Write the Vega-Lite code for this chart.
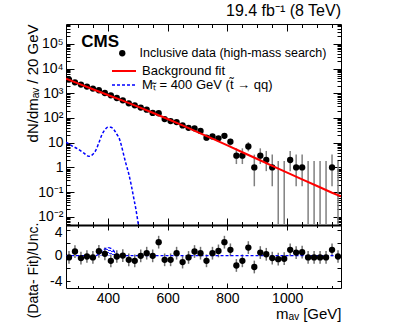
{
  "$schema": "https://vega.github.io/schema/vega-lite/v6.json",
  "padding": {"left": 24, "top": 3, "right": 5, "bottom": 0},
  "background": "white",
  "title": {"text": "19.4 fb⁻¹ (8 TeV)", "anchor": "end", "fontSize": 16, "fontWeight": "normal", "font": "Liberation Sans", "color": "black", "offset": 4, "frame": "group"},
  "spacing": 0,
  "bounds": "flush",
  "datasets": {
    "bins": [
      {"m":270,"n":3550,"lo":3490,"hi":3610,"pull":-0.3,"plo":-1.3,"phi":0.7},
      {"m":290,"n":2760,"lo":2707,"hi":2813,"pull":0.63,"plo":-0.37,"phi":1.63},
      {"m":310,"n":2240,"lo":2193,"hi":2287,"pull":-0.4,"plo":-1.4,"phi":0.6},
      {"m":330,"n":1850,"lo":1807,"hi":1893,"pull":-0.15,"plo":-1.15,"phi":0.85},
      {"m":350,"n":1540,"lo":1501,"hi":1579,"pull":-0.3,"plo":-1.3,"phi":0.7},
      {"m":370,"n":1320,"lo":1284,"hi":1356,"pull":0.67,"plo":-0.33,"phi":1.67},
      {"m":390,"n":1020,"lo":988,"hi":1052,"pull":0.27,"plo":-0.73,"phi":1.27},
      {"m":410,"n":822,"lo":793,"hi":851,"pull":-0.83,"plo":-1.83,"phi":0.17},
      {"m":430,"n":640,"lo":615,"hi":665,"pull":-0.15,"plo":-1.15,"phi":0.85},
      {"m":450,"n":515,"lo":492,"hi":538,"pull":0,"plo":-1,"phi":1},
      {"m":470,"n":390,"lo":370,"hi":410,"pull":-0.67,"plo":-1.67,"phi":0.33},
      {"m":490,"n":323,"lo":305,"hi":341,"pull":-0.83,"plo":-1.83,"phi":0.17},
      {"m":510,"n":262,"lo":246,"hi":278,"pull":-0.05,"plo":-1.05,"phi":0.95},
      {"m":530,"n":216,"lo":201,"hi":231,"pull":0.37,"plo":-0.63,"phi":1.37},
      {"m":550,"n":160,"lo":147,"hi":173,"pull":-0.05,"plo":-1.05,"phi":0.95},
      {"m":570,"n":155,"lo":143,"hi":167,"pull":2.1,"plo":1.1,"phi":3.1},
      {"m":590,"n":90,"lo":80.5,"hi":99.5,"pull":-0.67,"plo":-1.67,"phi":0.33},
      {"m":610,"n":75,"lo":66.3,"hi":83.7,"pull":-0.67,"plo":-1.67,"phi":0.33},
      {"m":630,"n":68,"lo":59.8,"hi":76.2,"pull":0.37,"plo":-0.63,"phi":1.37},
      {"m":650,"n":50,"lo":42.9,"hi":57.1,"pull":-1.03,"plo":-2.03,"phi":-0.03},
      {"m":670,"n":40,"lo":33.7,"hi":46.3,"pull":-0.3,"plo":-1.3,"phi":0.7},
      {"m":690,"n":38,"lo":31.8,"hi":44.2,"pull":0.63,"plo":-0.37,"phi":1.63},
      {"m":710,"n":30,"lo":24.5,"hi":35.5,"pull":0.37,"plo":-0.63,"phi":1.37},
      {"m":730,"n":16,"lo":12,"hi":20,"pull":-0.83,"plo":-1.83,"phi":0.17},
      {"m":750,"n":18,"lo":13.8,"hi":22.2,"pull":0.37,"plo":-0.63,"phi":1.37},
      {"m":770,"n":15,"lo":11.1,"hi":18.9,"pull":0.73,"plo":-0.27,"phi":1.73},
      {"m":790,"n":19,"lo":14.6,"hi":23.4,"pull":2.1,"plo":1.1,"phi":3.1},
      {"m":810,"n":11,"lo":7.7,"hi":14.3,"pull":0.9,"plo":-0.1,"phi":1.9},
      {"m":830,"n":3,"lo":1.37,"hi":5.92,"pull":-1.56,"plo":-2.56,"phi":-0.56},
      {"m":850,"n":3,"lo":1.37,"hi":5.92,"pull":-0.83,"plo":-1.83,"phi":0.17},
      {"m":870,"n":7,"lo":4.47,"hi":10.5,"pull":1.25,"plo":0.25,"phi":2.25},
      {"m":890,"n":1,"lo":0.173,"hi":3.3,"pull":-1.8,"plo":-2.8,"phi":-0.8},
      {"m":910,"n":3,"lo":1.37,"hi":5.92,"pull":0.47,"plo":-0.53,"phi":1.47},
      {"m":930,"n":2,"lo":0.708,"hi":4.64,"pull":0.2,"plo":-0.8,"phi":1.2},
      {"m":950,"n":1,"lo":0.173,"hi":3.3,"pull":-0.4,"plo":-1.4,"phi":0.6},
      {"m":970,"n":0,"lo":0.001,"hi":1.84,"pull":-0.57,"plo":-1.57,"phi":0.43},
      {"m":990,"n":0,"lo":0.001,"hi":1.84,"pull":-0.5,"plo":-1.5,"phi":0.5},
      {"m":1010,"n":2,"lo":0.708,"hi":4.64,"pull":0.9,"plo":-0.1,"phi":1.9},
      {"m":1030,"n":1,"lo":0.173,"hi":3.3,"pull":0.47,"plo":-0.53,"phi":1.47},
      {"m":1050,"n":1,"lo":0.173,"hi":3.3,"pull":0.52,"plo":-0.48,"phi":1.52},
      {"m":1070,"n":0,"lo":0.001,"hi":1.84,"pull":-0.3,"plo":-1.3,"phi":0.7},
      {"m":1090,"n":0,"lo":0.001,"hi":1.84,"pull":-0.3,"plo":-1.3,"phi":0.7},
      {"m":1110,"n":0,"lo":0.001,"hi":1.84,"pull":-0.3,"plo":-1.3,"phi":0.7},
      {"m":1130,"n":0,"lo":0.001,"hi":1.84,"pull":-0.3,"plo":-1.3,"phi":0.7},
      {"m":1150,"n":1,"lo":0.173,"hi":3.3,"pull":0.9,"plo":-0.1,"phi":1.9},
      {"m":1170,"n":0,"lo":0.001,"hi":1.84,"pull":-0.15,"plo":-1.15,"phi":0.85}
    ],
    "fit": [
      {"m":260,"v":3890},{"m":300,"v":2510},{"m":350,"v":1445},{"m":400,"v":851},{"m":450,"v":501},
      {"m":500,"v":288},{"m":550,"v":162},{"m":600,"v":91},{"m":650,"v":50},{"m":700,"v":26.9},
      {"m":750,"v":14.5},{"m":800,"v":7.8},{"m":850,"v":4.1},{"m":900,"v":2.19},{"m":950,"v":1.15},
      {"m":1000,"v":0.62},{"m":1050,"v":0.33},{"m":1100,"v":0.178},{"m":1150,"v":0.095},{"m":1180,"v":0.068}
    ],
    "sig": [
      {"m":260,"v":10.5},{"m":280,"v":7.5},{"m":300,"v":5.5},{"m":320,"v":3.8},{"m":336,"v":2.8},
      {"m":350,"v":3.4},{"m":360,"v":5},{"m":370,"v":10},{"m":380,"v":21},{"m":390,"v":33},
      {"m":400,"v":42},{"m":410,"v":42},{"m":420,"v":34},{"m":430,"v":22},{"m":436,"v":17},
      {"m":445,"v":8},{"m":452,"v":3.6},{"m":460,"v":1.5},{"m":470,"v":0.55},{"m":478,"v":0.2},
      {"m":486,"v":0.063},{"m":494,"v":0.02},{"m":502,"v":0.005},{"m":510,"v":0.0015}
    ],
    "sigpull": [
      {"m":260,"p":0},{"m":362,"p":0},{"m":370,"p":0.25},{"m":378,"p":0.6},{"m":386,"p":0.95},
      {"m":394,"p":1.15},{"m":402,"p":1.25},{"m":410,"p":1.15},{"m":418,"p":0.85},{"m":426,"p":0.4},
      {"m":434,"p":0.1},{"m":442,"p":0},{"m":1180,"p":0}
    ]
  },
  "vconcat": [
    {
      "width": 275,
      "height": 201,
      "layer": [
        {
          "data": {"name": "bins"},
          "mark": {"type": "rule", "color": "#808080", "strokeWidth": 1.5, "clip": true},
          "encoding": {
            "x": {"field": "m", "type": "quantitative",
                  "scale": {"domain": [260, 1180], "nice": false, "zero": false},
                  "axis": {"orient": "bottom", "values": [300,350,400,450,500,550,600,650,700,750,800,850,900,950,1000,1050,1100,1150],
                           "labels": false, "tickSize": {"condition": {"test": "datum.value % 200 == 0", "value": -7}, "value": -3.5},
                           "tickColor": "black", "domain": true, "domainWidth": 2, "domainColor": "black", "title": null, "grid": false}},
            "y": {"field": "lo", "type": "quantitative",
                  "scale": {"type": "log", "domain": [0.0047, 630000], "nice": false},
                  "axis": {"orient": "left", "values": [0.01,0.1,1,10,100,1000,10000,100000], "ticks": false, "domain": false,
                           "labelExpr": "datum.value == 100000 ? '10⁵' : datum.value == 10000 ? '10⁴' : datum.value == 1000 ? '10³' : datum.value == 100 ? '10²' : datum.value == 10 ? '10' : datum.value == 1 ? '1' : datum.value == 0.1 ? '10⁻¹' : datum.value == 0.01 ? '10⁻²' : ''",
                           "labelPadding": 3, "labelFontSize": 14, "labelOverlap": false, "labelFlush": false,
                           "title": "dN/dmₐᵥ / 20 GeV", "titleFontSize": 15, "titleX": -29, "titleY": 0,
                           "titleAlign": "right", "titleBaseline": "alphabetic", "grid": false}},
            "y2": {"field": "hi"}
          }
        },
        {
          "data": {"name": "bins"},
          "transform": [{"filter": "datum.n > 0"}],
          "mark": {"type": "point", "shape": "circle", "filled": true, "size": 40, "color": "black", "opacity": 1, "clip": true},
          "encoding": {
            "x": {"field": "m", "type": "quantitative",
                  "axis": {"orient": "top", "values": [300,350,400,450,500,550,600,650,700,750,800,850,900,950,1000,1050,1100,1150],
                           "labels": false, "tickSize": {"condition": {"test": "datum.value % 200 == 0", "value": -7}, "value": -3.5},
                           "tickColor": "black", "domain": false, "title": null, "grid": false}},
            "y": {"field": "n", "type": "quantitative",
                  "axis": {"orient": "right", "values": [0.005,0.006,0.007,0.008,0.009,0.01,0.02,0.03,0.04,0.05,0.06,0.07,0.08,0.09,0.1,0.2,0.3,0.4,0.5,0.6,0.7,0.8,0.9,1,2,3,4,5,6,7,8,9,10,20,30,40,50,60,70,80,90,100,200,300,400,500,600,700,800,900,1000,2000,3000,4000,5000,6000,7000,8000,9000,10000,20000,30000,40000,50000,60000,70000,80000,90000,100000,200000,300000,400000,500000,600000],
                           "labels": false, "tickSize": {"condition": {"test": "indexof([0.01,0.1,1,10,100,1000,10000,100000], datum.value) >= 0", "value": -8}, "value": -4},
                           "tickColor": "black", "domain": false, "title": null, "grid": false}},
            "shape": {"datum": "Inclusive data (high-mass search)", "type": "nominal",
                      "scale": {"range": ["circle"]},
                      "legend": {"orient": "none", "legendX": 50, "legendY": 23, "title": null,
                                 "labelFont": "Liberation Sans", "labelFontSize": 12.5, "labelColor": "black", "labelLimit": 0,
                                 "symbolSize": 40, "symbolFillColor": "black", "symbolStrokeColor": "black", "symbolStrokeWidth": 0,
                                 "symbolOpacity": 1, "labelOffset": 11, "padding": 0}}
          }
        },
        {
          "data": {"name": "fit"},
          "mark": {"type": "line", "strokeWidth": 2, "clip": true},
          "encoding": {
            "x": {"field": "m", "type": "quantitative", "axis": null},
            "y": {"field": "v", "type": "quantitative",
                  "axis": {"orient": "left", "values": [0.005,0.006,0.007,0.008,0.009,0.01,0.02,0.03,0.04,0.05,0.06,0.07,0.08,0.09,0.1,0.2,0.3,0.4,0.5,0.6,0.7,0.8,0.9,1,2,3,4,5,6,7,8,9,10,20,30,40,50,60,70,80,90,100,200,300,400,500,600,700,800,900,1000,2000,3000,4000,5000,6000,7000,8000,9000,10000,20000,30000,40000,50000,60000,70000,80000,90000,100000,200000,300000,400000,500000,600000],
                           "labels": false, "tickSize": {"condition": {"test": "indexof([0.01,0.1,1,10,100,1000,10000,100000], datum.value) >= 0", "value": -8}, "value": -4},
                           "tickColor": "black", "domain": false, "title": null, "grid": false}},
            "color": {"datum": "Background fit", "type": "nominal",
                      "scale": {"range": ["#ff0000"]},
                      "legend": {"orient": "none", "legendX": 45, "legendY": 34, "title": null,
                                 "labelFont": "Liberation Sans", "labelFontSize": 13, "labelColor": "black", "labelLimit": 0,
                                 "symbolType": "stroke", "symbolSize": 576, "symbolStrokeWidth": 2, "labelOffset": 5, "padding": 0}}
          }
        },
        {
          "data": {"name": "sig"},
          "mark": {"type": "line", "color": "#0000ff", "strokeWidth": 1.5, "interpolate": "monotone", "clip": true},
          "encoding": {
            "x": {"field": "m", "type": "quantitative", "axis": null},
            "y": {"field": "v", "type": "quantitative", "axis": null},
            "strokeDash": {"datum": "Mₜ̃ = 400 GeV (t̃ → qq)", "type": "nominal",
                           "scale": {"range": [[3, 2]]},
                           "legend": {"orient": "none", "legendX": 45, "legendY": 48, "title": null,
                                      "labelFont": "Liberation Sans", "labelFontSize": 13, "labelColor": "black", "labelLimit": 0,
                                      "symbolType": "stroke", "symbolSize": 576, "symbolStrokeWidth": 1.5, "symbolStrokeColor": "#0000ff",
                                      "labelOffset": 5, "padding": 0}}
          }
        },
        {
          "data": {"values": [{"t": "CMS"}]},
          "mark": {"type": "text", "align": "left", "baseline": "alphabetic", "fontSize": 17, "fontWeight": "bold", "font": "Liberation Sans", "color": "black"},
          "encoding": {
            "text": {"field": "t"},
            "x": {"datum": 311, "type": "quantitative", "axis": null},
            "y": {"datum": 77000, "type": "quantitative", "axis": null}
          }
        }
      ],
      "resolve": {"axis": {"x": "independent", "y": "independent"}}
    },
    {
      "width": 275,
      "height": 63,
      "layer": [
        {
          "data": {"name": "sigpull"},
          "transform": [{"filter": "datum.m >= 362 && datum.m <= 442"}],
          "mark": {"type": "area", "clip": true,
                   "fill": {"gradient": "linear", "x1": 0, "y1": 1, "x2": 1, "y2": 0,
                            "stops": [
                              {"offset": 0, "color": "#ffffff"}, {"offset": 0.08, "color": "#ffffff"},
                              {"offset": 0.08, "color": "#3030ff"}, {"offset": 0.14, "color": "#3030ff"},
                              {"offset": 0.14, "color": "#ffffff"}, {"offset": 0.24, "color": "#ffffff"},
                              {"offset": 0.24, "color": "#3030ff"}, {"offset": 0.3, "color": "#3030ff"},
                              {"offset": 0.3, "color": "#ffffff"}, {"offset": 0.4, "color": "#ffffff"},
                              {"offset": 0.4, "color": "#3030ff"}, {"offset": 0.46, "color": "#3030ff"},
                              {"offset": 0.46, "color": "#ffffff"}, {"offset": 0.56, "color": "#ffffff"},
                              {"offset": 0.56, "color": "#3030ff"}, {"offset": 0.62, "color": "#3030ff"},
                              {"offset": 0.62, "color": "#ffffff"}, {"offset": 0.72, "color": "#ffffff"},
                              {"offset": 0.72, "color": "#3030ff"}, {"offset": 0.78, "color": "#3030ff"},
                              {"offset": 0.78, "color": "#ffffff"}, {"offset": 0.88, "color": "#ffffff"},
                              {"offset": 0.88, "color": "#3030ff"}, {"offset": 0.94, "color": "#3030ff"},
                              {"offset": 0.94, "color": "#ffffff"}, {"offset": 1, "color": "#ffffff"}
                            ]}},
          "encoding": {
            "x": {"field": "m", "type": "quantitative", "scale": {"domain": [260, 1180], "nice": false, "zero": false}, "axis": null},
            "y": {"field": "p", "type": "quantitative", "scale": {"domain": [-5.1, 4.8], "nice": false, "zero": false}, "axis": null}
          }
        },
        {
          "data": {"name": "bins"},
          "mark": {"type": "rule", "color": "#707070", "strokeWidth": 1.5, "clip": true},
          "encoding": {
            "x": {"field": "m", "type": "quantitative",
                  "axis": {"orient": "bottom", "values": [400, 600, 800, 1000], "ticks": false, "domain": false,
                           "labelExpr": "'' + datum.value",
                           "labelPadding": 3, "labelFontSize": 14, "labelFlush": false,
                           "title": "mₐᵥ [GeV]", "titleFontSize": 15, "titleAlign": "right", "titleBaseline": "alphabetic",
                           "titleX": 275, "titleY": 30, "grid": false}},
            "y": {"field": "plo", "type": "quantitative",
                  "axis": {"orient": "left", "values": [-4, -2, 0, 2, 4], "ticks": false, "domain": false,
                           "labelExpr": "'' + datum.value", "labelPadding": 4, "labelFontSize": 14, "labelFlush": false,
                           "labelOffset": {"condition": {"test": "datum.value == 4", "value": 2}, "value": 0},
                           "title": "(Data- Fit)/Unc.", "titleFontSize": 14, "titleX": -29, "titleY": 45,
                           "titleAlign": "center", "titleBaseline": "alphabetic", "grid": false}},
            "y2": {"field": "phi"}
          }
        },
        {
          "data": {"name": "sigpull"},
          "mark": {"type": "line", "color": "#0000ff", "strokeWidth": 1.2, "strokeDash": [3, 2], "clip": true},
          "encoding": {
            "x": {"field": "m", "type": "quantitative",
                  "axis": {"orient": "bottom", "values": [300,350,400,450,500,550,600,650,700,750,800,850,900,950,1000,1050,1100,1150],
                           "labels": false, "tickSize": {"condition": {"test": "datum.value % 200 == 0", "value": -5}, "value": -2.5},
                           "tickColor": "black", "domain": false, "title": null, "grid": false}},
            "y": {"field": "p", "type": "quantitative",
                  "axis": {"orient": "left", "values": [-4, -2, 0, 2, 4], "labels": false, "tickSize": -4,
                           "tickColor": "black", "domain": false, "title": null, "grid": false}}
          }
        },
        {
          "data": {"name": "bins"},
          "mark": {"type": "point", "shape": "circle", "filled": true, "size": 40, "color": "black", "opacity": 1, "clip": true},
          "encoding": {
            "x": {"field": "m", "type": "quantitative",
                  "axis": {"orient": "top", "values": [300,350,400,450,500,550,600,650,700,750,800,850,900,950,1000,1050,1100,1150],
                           "labels": false, "tickSize": {"condition": {"test": "datum.value % 200 == 0", "value": -5}, "value": -2.5},
                           "tickColor": "black", "domain": false, "title": null, "grid": false}},
            "y": {"field": "pull", "type": "quantitative",
                  "axis": {"orient": "right", "values": [-4, -2, 0, 2, 4], "labels": false, "tickSize": -4,
                           "tickColor": "black", "domain": false, "title": null, "grid": false}}
          }
        }
      ],
      "resolve": {"axis": {"x": "independent", "y": "independent"}}
    }
  ],
  "config": {
    "font": "Liberation Sans",
    "view": {"stroke": "black", "strokeWidth": 1},
    "axis": {"labelFont": "Liberation Sans", "titleFont": "Liberation Sans", "labelColor": "black", "titleColor": "black",
             "tickColor": "black", "domainColor": "black", "titleFontWeight": "normal", "grid": false},
    "legend": {"labelFont": "Liberation Sans"}
  }
}
